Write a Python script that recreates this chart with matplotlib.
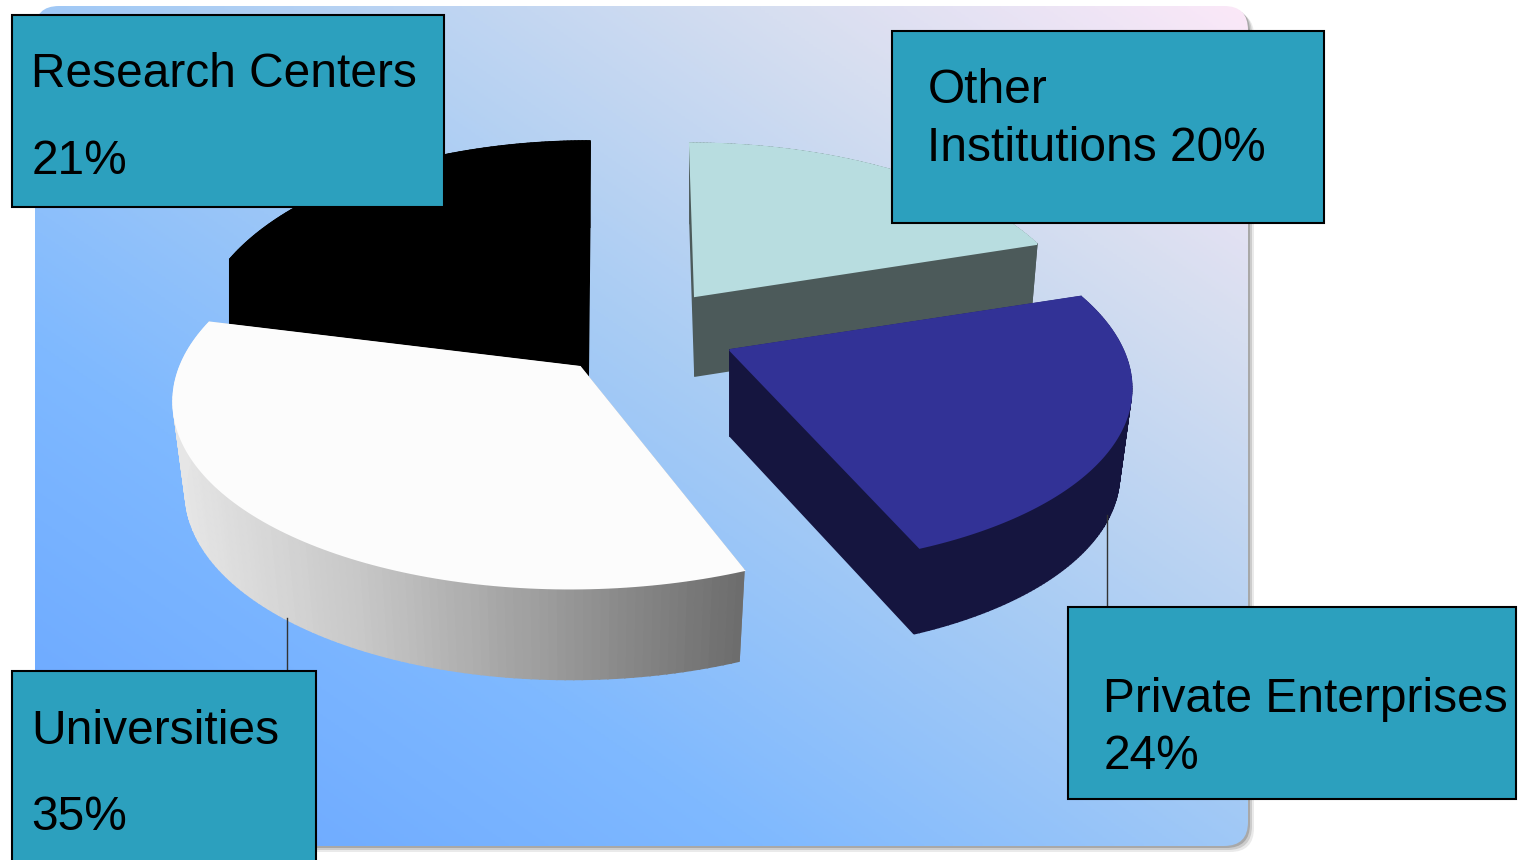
import numpy as np
import matplotlib.pyplot as plt
from matplotlib.colors import LinearSegmentedColormap
from matplotlib.patches import FancyBboxPatch, Polygon, Rectangle

plt.rcParams['font.family'] = ['Liberation Sans', 'DejaVu Sans']

# clockwise from 12 o'clock
categories = ['Other Institutions', 'Private Enterprises', 'Universities', 'Research Centers']
shares = [20, 24, 35, 21]

# styling per slice, same order as categories
apex = [(695, 296), (730, 350), (580, 367), (588, 305)]
radius_x = [379, 393, 400, 385]
radius_y = [177, 181, 186, 190]
shear = [0.033, 0.1, -0.045, -0.01]
depth = [80, 86, 91, 86]
taper = [0.98, 0.97, 0.97, 1.0]
top_colors = ['#b8dde0', '#323296', '#fcfcfc', '#000000']
wall_colors = ['#4c5a5a', '#15153f', None, '#000000']

persp = 0.16

W, H = 1523, 860
fig = plt.figure(figsize=(W / 100, H / 100), dpi=100)
ax = fig.add_axes([0, 0, 1, 1])
ax.set_xlim(0, W)
ax.set_ylim(H, 0)
ax.axis('off')


def project(theta, i):
    u, v = np.sin(theta), np.cos(theta)
    s = 1 / (1 + persp * v)
    dy = -radius_y[i] * v * s
    dx = radius_x[i] * u * s + shear[i] * dy
    return apex[i][0] + dx, apex[i][1] + dy


# 背景
L, T, R, B = 35, 6, 1248, 846
for off, alpha in [(6, 0.12), (4, 0.2), (2, 0.3)]:
    ax.add_patch(FancyBboxPatch((L + off + 18, T + off + 18), R - L - 36, B - T - 36,
                                boxstyle='round,pad=18,rounding_size=24',
                                fc='#555555', ec='none', alpha=alpha, zorder=1))
bg = LinearSegmentedColormap.from_list('bg', [(0, '#68a5ff'), (0.3, '#7fb9ff'), (0.55, '#a8ccf4'),
                                              (0.8, '#d6def0'), (1, '#fbe8f8')])
yy, xx = np.mgrid[0:1:300j, 0:1:300j]
grad = np.clip(0.5 * xx + 0.5 * (1 - yy), 0, 1)
im = ax.imshow(grad, cmap=bg, vmin=0, vmax=1, extent=(L, R, B, T), aspect='auto', zorder=2)
clip = FancyBboxPatch((L + 18, T + 18), R - L - 36, B - T - 36,
                      boxstyle='round,pad=18,rounding_size=24',
                      fc='none', ec='none', transform=ax.transData)
ax.add_patch(clip)
im.set_clip_path(clip)
ax.set_xlim(0, W)
ax.set_ylim(H, 0)

# 饼图
edges = np.cumsum([0] + shares) / sum(shares) * 2 * np.pi
wall_cmap = LinearSegmentedColormap.from_list('wall', ['#e6e6e6', '#c6c6c6', '#9a9a9a', '#6c6c6c'])
draw_order = [3, 0, 1, 2]
for z, i in enumerate(draw_order):
    th = np.linspace(edges[i], edges[i + 1], 120)
    x, y = project(th, i)
    px = np.r_[apex[i][0], x, apex[i][0]]
    py = np.r_[apex[i][1], y, apex[i][1]]
    # bottom outline is pulled in a little towards the apex
    qx = apex[i][0] + (px - apex[i][0]) * taper[i]
    qy = py + depth[i]
    zo = 3 + z
    for k in range(len(px) - 1):
        quad = [(px[k], py[k]), (px[k + 1], py[k + 1]), (qx[k + 1], qy[k + 1]), (qx[k], qy[k])]
        col = wall_colors[i]
        if col is None:
            col = wall_cmap(np.clip((0.5 * (px[k] + px[k + 1]) - x.min()) / (x.max() - x.min()), 0, 1))
        ax.add_patch(Polygon(quad, closed=True, fc=col, ec=col, lw=1.2, zorder=zo))
    ax.add_patch(Polygon(np.c_[px, py], closed=True, fc=top_colors[i], ec=top_colors[i], lw=1.5,
                         zorder=zo + 0.5))

# 引线
ax.plot([287, 287], [618, 671], color='#333333', lw=1, zorder=9)
ax.plot([1107, 1107], [515, 607], color='#333333', lw=1, zorder=9)

# 标签框
box_color = '#2ca0be'
boxes = [(892, 31, 432, 192), (1068, 607, 448, 192), (12, 671, 304, 200), (12, 15, 432, 192)]
for bx, by, bw, bh in boxes:
    ax.add_patch(Rectangle((bx, by), bw, bh, fc=box_color, ec='black', lw=1.5, zorder=10))

lines = [['Other', 'Institutions %d%%' % shares[0]],
         ['Private Enterprises', '%d%%' % shares[1]],
         ['Universities', '', '%d%%' % shares[2]],
         ['Research Centers', '', '%d%%' % shares[3]]]
text_pos = [(927.5, [103, 161]), (1103.5, [712, 769]), (31, [744, None, 830]), (31.5, [87, None, 174])]
for rows, (tx, ys) in zip(lines, text_pos):
    for row, ty in zip(rows, ys):
        if row:
            ax.text(tx, ty, row, fontsize=34.5, color='black', va='baseline', ha='left', zorder=11)

fig.savefig('out.png', dpi=100)
